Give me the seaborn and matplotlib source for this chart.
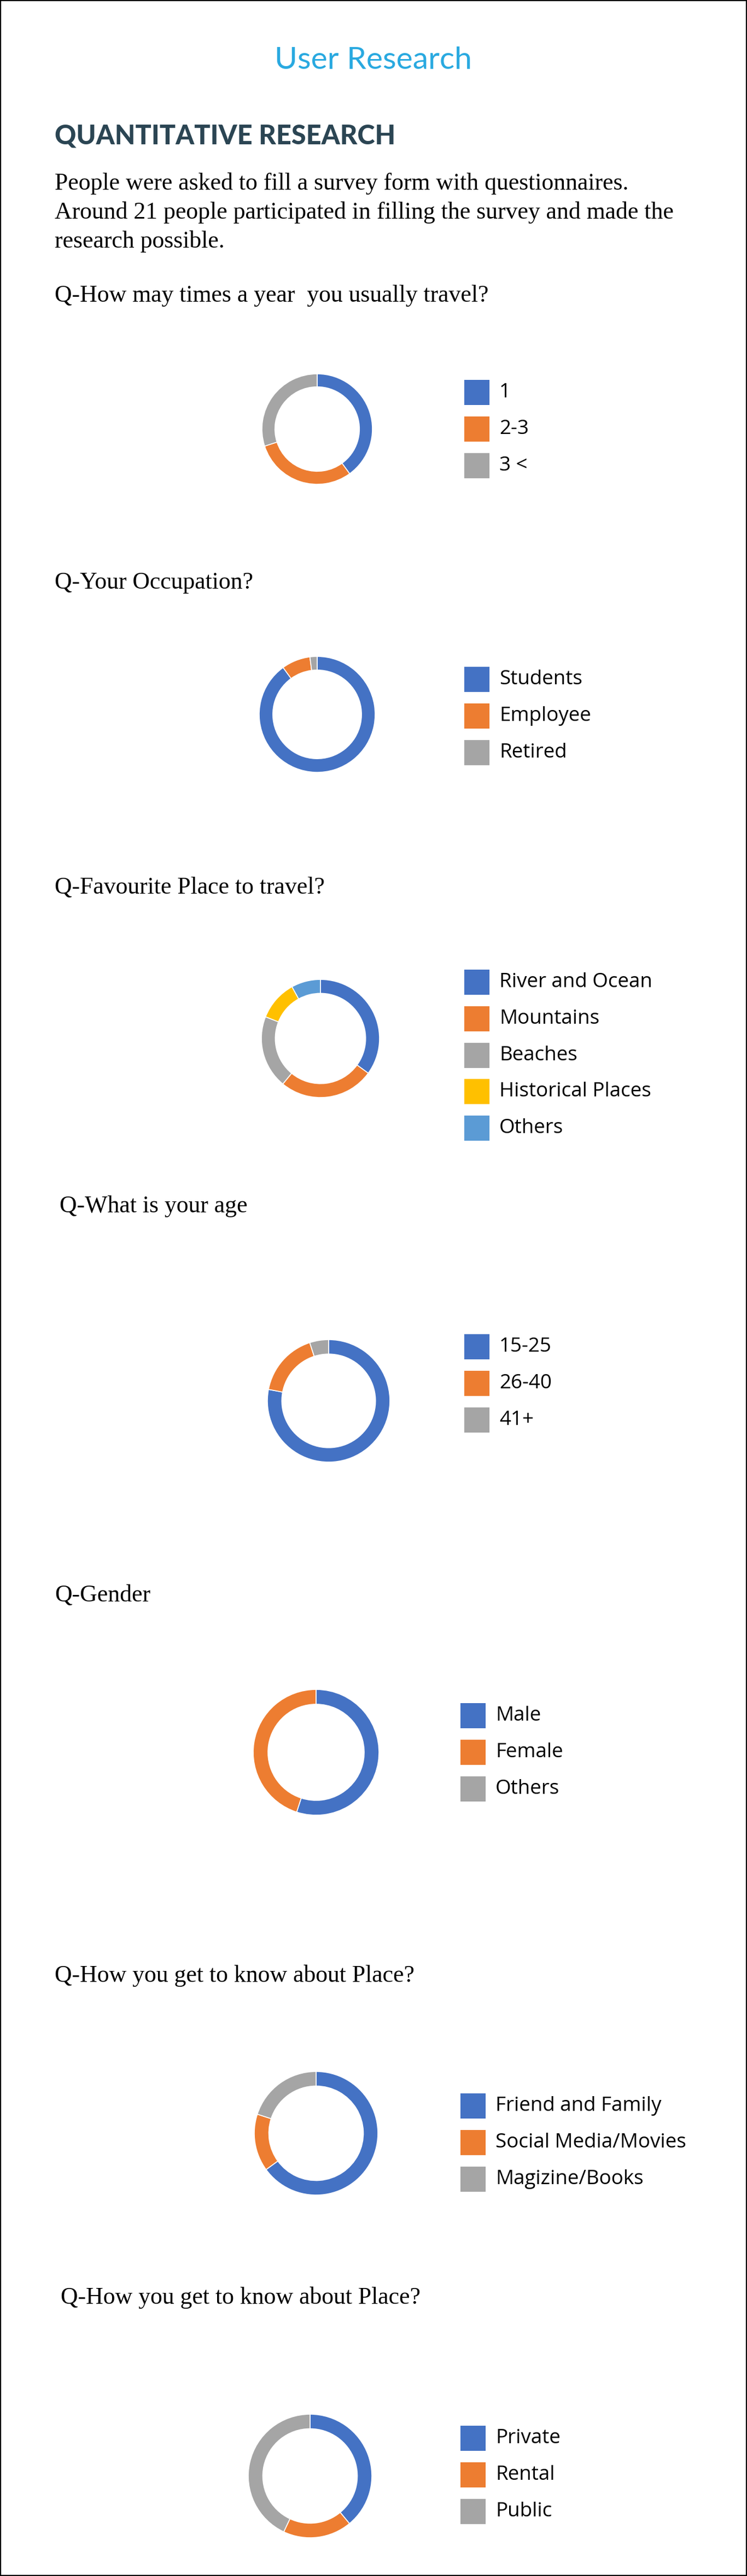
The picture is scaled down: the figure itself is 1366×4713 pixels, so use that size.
import matplotlib
matplotlib.use("Agg")
import matplotlib.pyplot as plt
from matplotlib.patches import Rectangle
import seaborn as sns

W, H = 1366, 4713

# survey answers (share of respondents, %)
travel_labels = ["1", "2-3", "3 <"]
travel_values = [40, 30, 30]

occupation_labels = ["Students", "Employee", "Retired"]
occupation_values = [90, 8, 2]

place_labels = ["River and Ocean", "Mountains", "Beaches", "Historical Places", "Others"]
place_values = [35, 26, 20, 11, 8]

age_labels = ["15-25", "26-40", "41+"]
age_values = [78, 17, 5]

gender_labels = ["Male", "Female", "Others"]
gender_values = [55, 45, 0]

source_labels = ["Friend and Family", "Social Media/Movies", "Magizine/Books"]
source_values = [65, 15, 20]

transport_labels = ["Private", "Rental", "Public"]
transport_values = [39, 18, 43]

questions = [
    "Q-How may times a year  you usually travel?",
    "Q-Your Occupation?",
    "Q-Favourite Place to travel?",
    "Q-What is your age",
    "Q-Gender",
    "Q-How you get to know about Place?",
    "Q-How you get to know about Place?",
]

office_colors = ["#4472C4", "#ED7D31", "#A5A5A5", "#FFC000", "#5B9BD5"]

sns.set_theme(style="white")
palette = sns.color_palette(office_colors)
plt.rcParams["font.family"] = ["Open Sans", "DejaVu Sans"]


def fx(x):
    return x / W


def fy(y):
    return 1 - y / H


fig = plt.figure(figsize=(W / 100, H / 100), dpi=100)
fig.patch.set_facecolor("white")

# page frame
fig.patches.append(Rectangle((0.0005, 0.0002), 0.999, 0.9996, transform=fig.transFigure,
                             fill=False, edgecolor="black", linewidth=1.5))

fig.text(fx(683), fy(126), "User Research", ha="center", va="baseline",
         fontsize=41, color="#29A9E0", family=["Lato", "DejaVu Sans"], fontweight="normal")
fig.text(fx(100), fy(263), "QUANTITATIVE RESEARCH", ha="left", va="baseline",
         fontsize=35, color="#2B4553", family=["Lato", "DejaVu Sans"], fontweight="black")

serif = ["Liberation Serif", "DejaVu Serif"]
intro = [
    "People were asked to fill a survey form with questionnaires.",
    "Around 21 people participated in filling the survey and made the",
    "research possible.",
]
for line, base in zip(intro, [347, 400, 453]):
    fig.text(fx(100), fy(base), line, ha="left", va="baseline", fontsize=31.5,
             family=serif, color="black")

# question text positions (x, baseline)
q_pos = [(100, 552), (100, 1077), (100, 1635), (109, 2218), (100, 2930), (100, 3626), (111, 4215)]
for q, (qx, qy) in zip(questions, q_pos):
    fig.text(fx(qx), fy(qy), q, ha="left", va="baseline", fontsize=31.5,
             family=serif, color="black")

charts = [
    (travel_labels, travel_values, (580, 785, 101), 849, [718, 785, 852]),
    (occupation_labels, occupation_values, (580, 1307, 106), 849, [1243, 1310, 1377]),
    (place_labels, place_values, (586, 1900, 108), 849, [1797, 1864, 1931, 1997, 2064]),
    (age_labels, age_values, (601, 2563, 112), 849, [2464, 2531, 2598]),
    (gender_labels, gender_values, (578, 3206, 115), 842, [3139, 3206, 3273]),
    (source_labels, source_values, (578, 3903, 113), 842, [3853, 3920, 3987]),
    (transport_labels, transport_values, (567, 4530, 113), 842, [4461, 4528, 4595]),
]

for labels, values, (cx, cy, r), lx, rows in charts:
    ax = fig.add_axes([fx(cx - r), fy(cy + r), 2 * r / W, 2 * r / H])
    colors = palette[:len(values)]
    ax.pie(values, colors=colors, startangle=90, counterclock=False, radius=1,
           wedgeprops=dict(width=0.235, edgecolor="white", linewidth=1.2))
    ax.set_xlim(-1.0, 1.0)
    ax.set_ylim(-1.0, 1.0)
    ax.set_aspect("equal")
    ax.axis("off")

    # legend keys
    for lab, col, ry in zip(labels, colors, rows):
        fig.patches.append(Rectangle((fx(lx), fy(ry + 23)), 46 / W, 46 / H,
                                     transform=fig.transFigure, facecolor=col, edgecolor="none"))
        fig.text(fx(lx + 64), fy(ry), lab, ha="left", va="center", fontsize=26.5, color="black")

fig.savefig("out.png", dpi=100, facecolor="white")
